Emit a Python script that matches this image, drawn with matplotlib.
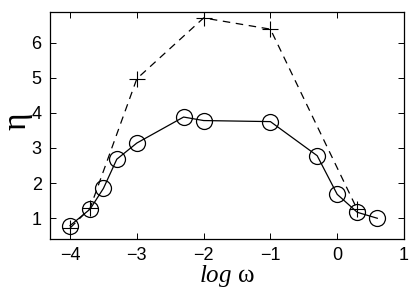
import matplotlib
matplotlib.use("Agg")
import matplotlib.pyplot as plt

# solid curve with circles
log_w_solid = [-4.0, -3.7, -3.5, -3.3, -3.0, -2.3, -2.0, -1.0, -0.3, 0.0, 0.3, 0.6]
eta_solid = [0.79, 1.26, 1.85, 2.68, 3.14, 3.88, 3.78, 3.75, 2.78, 1.68, 1.17, 1.0]

# dashed curve with plus markers
log_w_dashed = [-4.0, -3.7, -3.0, -2.0, -1.0, 0.3]
eta_dashed = [0.72, 1.29, 4.97, 6.70, 6.38, 1.25]

x_ticks = [-4, -3, -2, -1, 0, 1]
y_ticks = [1, 2, 3, 4, 5, 6]

plt.rcParams["font.family"] = ["Liberation Sans", "DejaVu Sans"]
plt.rcParams["mathtext.fontset"] = "custom"
plt.rcParams["mathtext.it"] = "Liberation Serif:italic"
plt.rcParams["mathtext.rm"] = "Liberation Serif"

fig = plt.figure(figsize=(4.15, 2.96), dpi=100)
ax = fig.add_axes([0.1205, 0.1926, 0.853, 0.767])

ax.plot(log_w_dashed, eta_dashed, "k--", marker="+", markersize=11,
        markeredgewidth=0.8, linewidth=0.9, dashes=(6, 4.5))
ax.plot(log_w_solid, eta_solid, "k-", marker="o", markersize=11.5,
        markerfacecolor="none", markeredgewidth=0.9, linewidth=0.9)

ax.set_xlim(-4.3, 1.0)
ax.set_ylim(0.41, 6.87)
ax.set_xticks(x_ticks)
ax.set_yticks(y_ticks)
ax.set_xticklabels(["\u22124", "\u22123", "\u22122", "\u22121", "0", "1"])
ax.tick_params(direction="in", top=True, right=True, labelsize=13,
               length=4, width=0.7, pad=6)
for s in ax.spines.values():
    s.set_linewidth(0.9)

ax.set_xlabel("$\\mathit{log}$ \u03c9", fontsize=18, family="Liberation Serif",
              labelpad=-1)
ax.set_ylabel("\u03b7", fontsize=24, family="Liberation Serif")
ax.yaxis.set_label_coords(-0.05, 0.52)

fig.savefig("out.png", dpi=100)
